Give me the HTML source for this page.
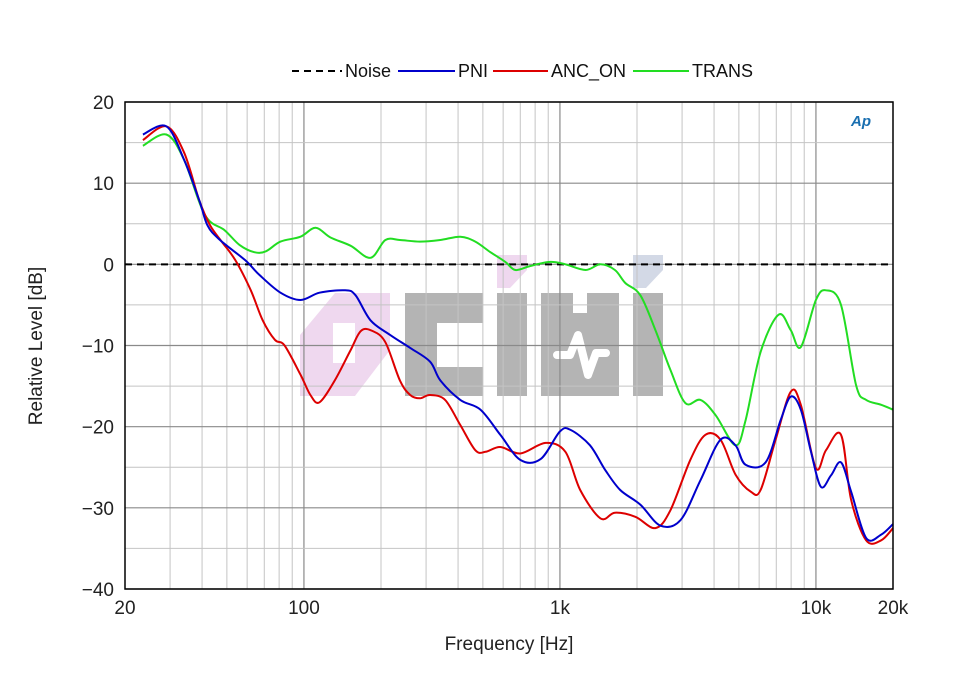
<!DOCTYPE html>
<html><head><meta charset="utf-8">
<style>
html,body{margin:0;padding:0;background:#fff;}
svg{display:block;font-family:"Liberation Sans",sans-serif;}
</style></head>
<body>
<svg id="chart" width="960" height="680" viewBox="0 0 960 680">
<rect width="960" height="680" fill="#fff"/>
<g id="wm" fill="#b4b4b4">
  <polygon points="335,293 390,293 390,350 355,396 300,396 300,335" fill="#e8c8e8" opacity="0.7"/>
  <rect x="333" y="323" width="22" height="40" fill="#fff"/>
  <path d="M405,293H483V323H437V367H483V396H405Z"/>
  <rect x="497" y="293" width="30" height="103"/>
  <path d="M541,293H573V313H587V293H619V396H541Z"/>
  <rect x="633" y="293" width="30" height="103"/>
  <polygon points="497,255 527,255 527,270 510,288 497,288" fill="#e8c8e8" opacity="0.7"/>
  <polygon points="633,255 663,255 663,270 646,288 633,288" fill="#c8d0e0" opacity="0.8"/>
  <path d="M557,355H570L578,335L588,375L596,353H606" stroke="#fff" stroke-width="8" fill="none" stroke-linecap="round" stroke-linejoin="round"/>
</g>
<g id="grid"></g>
<g id="series"></g>
<rect x="125" y="102" width="768" height="487" fill="none" stroke="#000" stroke-width="1.5"/>
<g id="ticks" font-size="19" fill="#222"></g>
<text x="509" y="650" text-anchor="middle" font-size="19" fill="#222">Frequency [Hz]</text>
<text transform="translate(42,346) rotate(-90)" text-anchor="middle" font-size="19" fill="#222">Relative Level [dB]</text>
<text x="851" y="126" font-size="15" font-style="italic" font-weight="bold" fill="#1a6fb0">Ap</text>
<g font-size="18" fill="#111">
  <g><line x1="292" y1="71" x2="342" y2="71" stroke="#000" stroke-width="2" stroke-dasharray="7,5"/><text x="345" y="77">Noise</text></g>
  <g><line x1="398" y1="71" x2="455" y2="71" stroke="#0000cc" stroke-width="2"/><text x="458" y="77">PNI</text></g>
  <g><line x1="493" y1="71" x2="548" y2="71" stroke="#dd0000" stroke-width="2"/><text x="551" y="77">ANC_ON</text></g>
  <g><line x1="633" y1="71" x2="689" y2="71" stroke="#22dd22" stroke-width="2"/><text x="692" y="77">TRANS</text></g>
</g>
</svg>
<script>
const xTickValues=[20,100,1000,10000,20000];
const xTickLabels=["20","100","1k","10k","20k"];
const yTickValues=[20,10,0,-10,-20,-30,-40];
const yTickLabels=["20","10","0","\u221210","\u221220","\u221230","\u221240"];
const noiseLevel=0;
const pniFreq=[23.5,29,34,39,42,47,59,67,81,97,115,145,159,182,217,260,311,341,408,489,585,700,840,1000,1100,1310,1500,1720,2060,2470,2960,3540,4240,4850,5310,6360,7280,7970,8730,9550,10450,11450,12530,13720,15700,17980,20000];
const pniDb=[16,17,12.9,7.9,4.8,3,0.5,-1.3,-3.5,-4.4,-3.5,-3.2,-3.8,-6.9,-8.7,-10.3,-12,-14.3,-16.7,-17.9,-21,-24.1,-24,-20.6,-20.4,-22.3,-25.3,-27.8,-29.6,-32.2,-31.5,-26.6,-21.6,-22.3,-24.7,-24.4,-19.2,-16.3,-17.9,-23,-27.4,-26,-24.4,-28,-33.7,-33.3,-32];
const ancFreq=[23.5,29,34,39,43,48,54,62,69,77,84,97,106,115,132,152,167,185,208,237,260,284,311,356,408,467,512,585,700,880,1050,1200,1440,1640,1970,2360,2700,3230,3700,4240,4850,5560,6080,6960,7970,8730,10000,10950,12530,13720,15700,17980,20000];
const ancDb=[15.3,17,13.8,7.9,4.8,2.7,0.5,-3.2,-6.9,-9.3,-10,-13.6,-16.1,-17,-14.3,-10.6,-8.2,-8.2,-9.6,-14.3,-16.1,-16.5,-16.1,-16.7,-19.8,-22.9,-23.1,-22.5,-23.3,-22,-23.1,-27.8,-31.3,-30.6,-31.1,-32.5,-30.3,-24.1,-21,-21.6,-25.9,-28,-27.8,-21.6,-15.7,-17.3,-25.1,-22.9,-21,-29,-34,-34,-32.5];
const transFreq=[23.5,29,34,41,49,56,64,71,81,97,111,127,152,182,208,237,284,341,408,467,535,612,670,766,916,1050,1260,1440,1640,1800,2060,2360,2700,3090,3540,4060,4850,5310,6080,7150,7970,8730,10000,10950,12530,14350,15700,17980,20000];
const transDb=[14.6,16,12.9,6.1,4.2,2.4,1.5,1.6,2.8,3.4,4.5,3.3,2.3,0.8,3,3,2.8,3,3.4,2.8,1.5,0.3,-0.7,-0.2,0.3,0,-0.7,0,-0.7,-2.3,-3.8,-8.1,-13,-17.1,-16.7,-18.6,-22.3,-19.2,-10.8,-6.2,-8.1,-10.2,-4.4,-3.2,-5,-14.9,-16.7,-17.3,-17.9];

const X0=125,X1=893,Y0=102,Y1=589;
const xScale=f=>X0+(Math.log10(f)-Math.log10(20))/(Math.log10(20000)-Math.log10(20))*(X1-X0);
const yScale=d=>Y0+(20-d)/60*(Y1-Y0);
const NS="http://www.w3.org/2000/svg";
function mk(tag,attrs,parent){const e=document.createElementNS(NS,tag);for(const k in attrs)e.setAttribute(k,attrs[k]);parent.appendChild(e);return e;}
const grid=document.getElementById('grid');
for(let dec=10;dec<=10000;dec*=10){for(let m=1;m<10;m++){const f=dec*m;if(f<20||f>20000)continue;const x=xScale(f);
  const ln=mk('line',{x1:x,x2:x,y1:Y0,y2:Y1,stroke:m===1?'#8a8a8a':'#c4c4c4','stroke-width':m===1?1.2:1},grid);
  
  }}
for(let d=-40;d<=20;d+=5){const y=yScale(d);
  const ln=mk('line',{x1:X0,x2:X1,y1:y,y2:y,stroke:d%10===0?'#8a8a8a':'#c4c4c4','stroke-width':d%10===0?1.2:1},grid);
  
  }
const ticks=document.getElementById('ticks');
xTickValues.forEach((v,i)=>{const t=mk('text',{x:xScale(v),y:614,'text-anchor':'middle'},ticks);t.textContent=xTickLabels[i];
  
  });
yTickValues.forEach((v,i)=>{const t=mk('text',{x:114,y:yScale(v)+7,'text-anchor':'end'},ticks);t.textContent=yTickLabels[i];
  
  });
function smooth(pts){let d=`M${pts[0][0].toFixed(1)},${pts[0][1].toFixed(1)}`;
  for(let i=0;i<pts.length-1;i++){const p0=pts[Math.max(0,i-1)],p1=pts[i],p2=pts[i+1],p3=pts[Math.min(pts.length-1,i+2)];
    const c1=[p1[0]+(p2[0]-p0[0])/6,p1[1]+(p2[1]-p0[1])/6],c2=[p2[0]-(p3[0]-p1[0])/6,p2[1]-(p3[1]-p1[1])/6];
    d+=`C${c1[0].toFixed(1)},${c1[1].toFixed(1)} ${c2[0].toFixed(1)},${c2[1].toFixed(1)} ${p2[0].toFixed(1)},${p2[1].toFixed(1)}`;}
  return d;}
const sg=document.getElementById('series');
const nl=mk('line',{x1:X0,x2:X1,y1:yScale(noiseLevel),y2:yScale(noiseLevel),stroke:'#000','stroke-width':2,'stroke-dasharray':'7,5'},sg);


function series(fr,db,color,name){const pts=fr.map((f,i)=>[xScale(f),yScale(db[i])]);
  const p=mk('path',{d:smooth(pts),fill:'none',stroke:color,'stroke-width':2,'stroke-linejoin':'round'},sg);
  
  }
series(transFreq,transDb,'#22dd22','trans-line');
series(ancFreq,ancDb,'#dd0000','anc-on-line');
series(pniFreq,pniDb,'#0000cc','pni-line');
</script>
</body></html>
